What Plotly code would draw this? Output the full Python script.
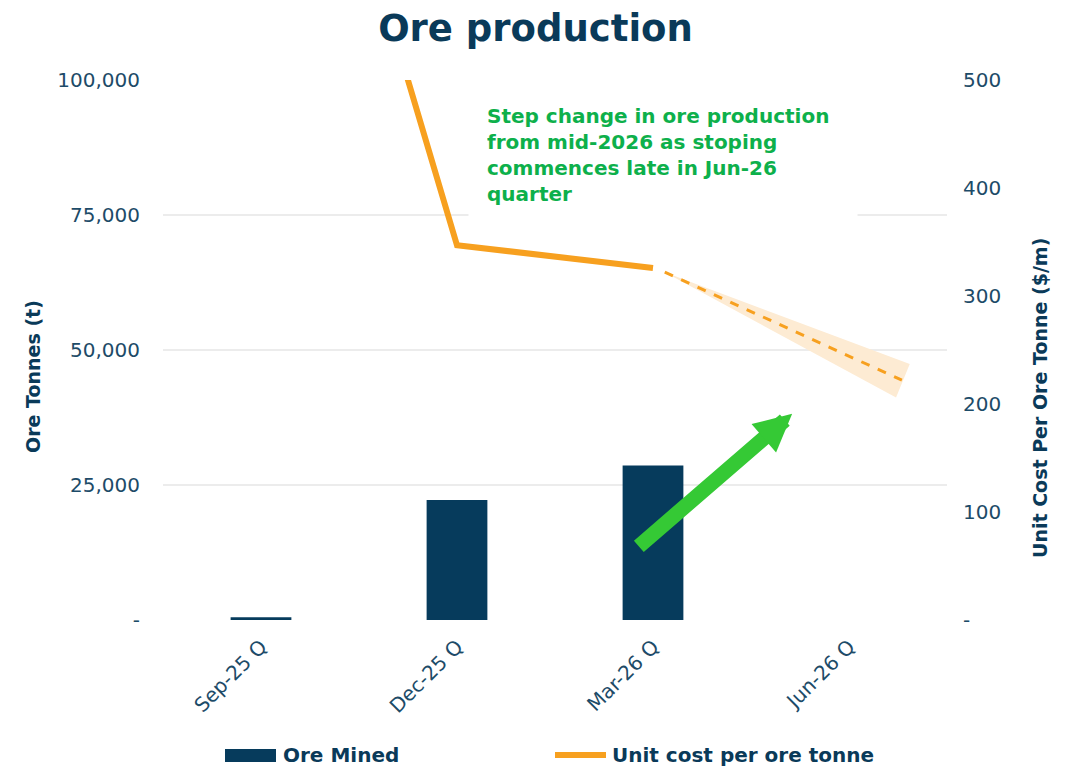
import plotly.graph_objects as go

categories = ["Sep-25 Q", "Dec-25 Q", "Mar-26 Q", "Jun-26 Q"]
cat_pos = [0, 1, 2, 3]
ore_mined = [500, 22200, 28600, 0]
unit_cost = [958, 347, 326]          # Sep-25..Mar-26 actuals ($/t)
proj_x = [2.06, 3.27]                # dashed projection (axis positions)
proj_y = [322, 222]
band_x = [2.06, 3.31, 3.24, 2.06]    # shaded projection range
band_y = [322, 237, 206, 322]
left_ticks = [0, 25000, 50000, 75000, 100000]
left_labels = ["-", "25,000", "50,000", "75,000", "100,000"]
right_ticks = [0, 100, 200, 300, 400, 500]
right_labels = ["-", "100", "200", "300", "400", "500"]
note_text = ("Step change in ore production<br>from mid-2026 as stoping<br>"
             "commences late in Jun-26<br>quarter")

NAVY = "#063b5c"
ORANGE = "#f7a01f"
TXT = "#1d4b68"
TITLE_C = "#0a3a59"
FONT = "DejaVu Sans"

W, H = 1071, 767
L, R, T, B = 163, 124, 80, 147
PW, PH = W - L - R, H - T - B


def px(xp):
    return (xp - L) / PW


def py(yp):
    return (H - B - yp) / PH


fig = go.Figure()
fig.add_trace(go.Bar(x=cat_pos, y=ore_mined, width=0.31, marker_color=NAVY,
                     marker_line_width=0,
                     name="Ore Mined", yaxis="y", showlegend=False))
fig.add_trace(go.Scatter(x=band_x, y=band_y, fill="toself", fillcolor="#fdebd3",
                         line=dict(width=0), mode="lines", yaxis="y2",
                         showlegend=False, hoverinfo="skip"))
fig.add_trace(go.Scatter(x=cat_pos[:3], y=unit_cost, mode="lines",
                         line=dict(color=ORANGE, width=6), yaxis="y2",
                         name="Unit cost per ore tonne", showlegend=False))
fig.add_trace(go.Scatter(x=proj_x, y=proj_y, mode="lines",
                         line=dict(color=ORANGE, width=3, dash="dash"),
                         yaxis="y2", showlegend=False))

fig.update_layout(
    width=W, height=H,
    margin=dict(l=L, r=R, t=T, b=B),
    plot_bgcolor="white", paper_bgcolor="white",
    font=dict(family=FONT, color=TXT, size=18),
    title=dict(text="<b>Ore production</b>", x=0.5, xref="container", xanchor="center",
               y=0.963, yanchor="middle",
               font=dict(size=37, color=TITLE_C, family=FONT)),
    xaxis=dict(range=[-0.5, 3.5], tickvals=cat_pos, ticktext=categories,
               tickangle=-45, showgrid=False, zeroline=False, showline=False,
               ticklabelstandoff=10,
               tickfont=dict(size=20, color=TXT)),
    yaxis=dict(range=[0, 100000], tickvals=left_ticks, ticktext=left_labels,
               showgrid=True, gridcolor="#ececec", gridwidth=1.5, zeroline=False,
               ticks="", ticklabelstandoff=22, tickfont=dict(size=20, color=TXT)),
    yaxis2=dict(range=[0, 500], tickvals=right_ticks, ticktext=right_labels,
                overlaying="y", side="right", showgrid=False, zeroline=False,
                ticks="", ticklabelstandoff=15, tickfont=dict(size=20, color=TXT)),
    showlegend=False,
)

# axis titles (offset as in the original)
fig.add_annotation(text="<b>Ore Tonnes (t)</b>", xref="paper", yref="paper",
                   x=px(33), y=py(377), textangle=-90, showarrow=False,
                   xanchor="center", yanchor="middle",
                   font=dict(size=19, color=TITLE_C))
fig.add_annotation(text="<b>Unit Cost Per Ore Tonne ($/m)</b>", xref="paper",
                   yref="paper", x=px(1040), y=py(398), textangle=-90,
                   showarrow=False, xanchor="center", yanchor="middle",
                   font=dict(size=19, color=TITLE_C))

# annotation text box
fig.add_annotation(text="<b>" + note_text + "</b>", xref="paper", yref="paper",
                   x=px(468), y=py(155), xanchor="left", yanchor="middle", align="left",
                   showarrow=False, bgcolor="white", borderpad=18, width=352,
                   font=dict(size=20, color="#0db04b", family=FONT))

# green arrow
fig.add_annotation(x=2.71, y=191, xref="x", yref="y2",
                   ax=1.92, ay=67, axref="x", ayref="y2",
                   showarrow=True, arrowhead=2, arrowsize=0.5, arrowwidth=15,
                   arrowcolor="#35c935", text="", standoff=0)

# legend (drawn)
fig.add_shape(type="rect", xref="paper", yref="paper",
              x0=px(225), x1=px(276), y0=py(749), y1=py(762),
              fillcolor=NAVY, line=dict(width=0))
fig.add_annotation(text="<b>Ore Mined</b>", xref="paper", yref="paper",
                   x=px(281), y=py(755), xanchor="left", yanchor="middle",
                   showarrow=False, font=dict(size=20, color=TITLE_C))
fig.add_shape(type="line", xref="paper", yref="paper",
              x0=px(555), x1=px(606), y0=py(755), y1=py(755),
              line=dict(color=ORANGE, width=6))
fig.add_annotation(text="<b>Unit cost per ore tonne</b>", xref="paper", yref="paper",
                   x=px(610), y=py(755), xanchor="left", yanchor="middle",
                   showarrow=False, font=dict(size=20, color=TITLE_C))

fig.write_html("out.html")
